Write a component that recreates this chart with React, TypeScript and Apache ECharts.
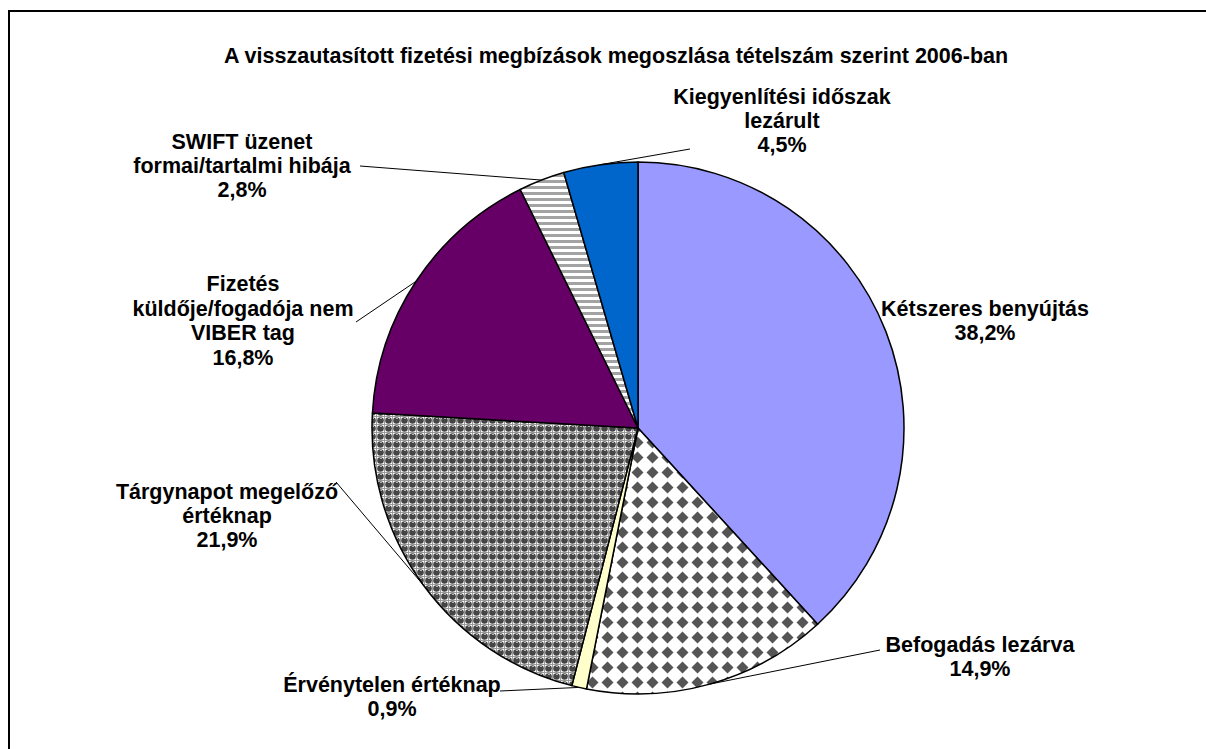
import React, { useEffect, useRef } from "react";
import * as echarts from "echarts";

const titleText = "A visszautasított fizetési megbízások megoszlása tételszám szerint 2006-ban";
const categories = [
  "Kétszeres benyújtás",
  "Befogadás lezárva",
  "Érvénytelen értéknap",
  "Tárgynapot megelőző\nértéknap",
  "Fizetés\nküldője/fogadója nem\nVIBER tag",
  "SWIFT üzenet\nformai/tartalmi hibája",
  "Kiegyenlítési időszak\nlezárult",
];
const values = [38.2, 14.9, 0.9, 21.9, 16.8, 2.8, 4.5];

// label placement: [centerX, centerY, leaderEndX, leaderEndY] (null = no leader)
const labelPlacement: Array<[number, number, number | null, number | null]> = [
  [985, 321, null, null],
  [980, 657, 880, 650],
  [392, 697, 500, 691],
  [227, 516, 336, 482],
  [243, 321, 356, 322],
  [242, 166, 360, 166],
  [782, 121, 690, 149],
];

function makeDiamond(): HTMLCanvasElement {
  const c = document.createElement("canvas");
  c.width = 15; c.height = 15;
  const g = c.getContext("2d")!;
  g.fillStyle = "#ffffff"; g.fillRect(0, 0, 15, 15);
  g.fillStyle = "#555555";
  g.beginPath();
  g.moveTo(7.5, 1.5); g.lineTo(13.5, 7.5); g.lineTo(7.5, 13.5); g.lineTo(1.5, 7.5);
  g.closePath(); g.fill();
  return c;
}
function makeChecker(): HTMLCanvasElement {
  const c = document.createElement("canvas");
  c.width = 8; c.height = 8;
  const g = c.getContext("2d")!;
  g.fillStyle = "#ffffff"; g.fillRect(0, 0, 8, 8);
  g.fillStyle = "#9a9a9a"; g.fillRect(0, 0, 8, 1); g.fillRect(0, 0, 1, 8);
  g.fillStyle = "#454545";
  g.beginPath(); g.arc(4.5, 4.5, 3.3, 0, Math.PI * 2); g.fill();
  g.fillStyle = "#b0b0b0"; g.fillRect(4, 2, 2, 1);
  return c;
}
function makeStripes(): HTMLCanvasElement {
  const c = document.createElement("canvas");
  c.width = 6; c.height = 6;
  const g = c.getContext("2d")!;
  g.fillStyle = "#ffffff"; g.fillRect(0, 0, 6, 6);
  g.fillStyle = "#a3a3a3"; g.fillRect(0, 0, 6, 3);
  return c;
}

export default function App() {
  const ref = useRef<HTMLDivElement>(null);
  useEffect(() => {
    document.body.style.margin = "0";
    const chart = echarts.init(ref.current!, undefined, { renderer: "svg" });
    const fills: any[] = [
      "#9999FF",
      { image: makeDiamond(), repeat: "repeat" },
      "#FFFFCC",
      { image: makeChecker(), repeat: "repeat" },
      "#660066",
      { image: makeStripes(), repeat: "repeat" },
      "#0066CC",
    ];
    const font = "Arial, 'Liberation Sans', sans-serif";
    chart.setOption({
      animation: false,
      backgroundColor: "#ffffff",
      title: {
        text: titleText,
        left: 611,
        top: 40,
        textAlign: "center",
        textStyle: { fontFamily: font, fontSize: 21.5, fontWeight: "bold", color: "#000" },
      },
      graphic: [
        {
          type: "rect",
          shape: { x: 9, y: 11, width: 1220, height: 760 },
          style: { fill: "none", stroke: "#000", lineWidth: 2 },
          silent: true,
        },
      ],
      series: [
        {
          type: "pie",
          center: [638, 428],
          radius: 266,
          startAngle: 90,
          clockwise: true,
          avoidLabelOverlap: false,
          data: categories.map((name, i) => ({
            name,
            value: values[i],
            itemStyle: { color: fills[i] },
            labelLine: { show: labelPlacement[i][2] != null },
          })),
          itemStyle: { borderColor: "#000", borderWidth: 1.5 },
          label: {
            show: true,
            position: "outside",
            overflow: "none",
            formatter: (p: any) => `${p.name}\n${values[p.dataIndex].toFixed(1).replace(".", ",")}%`,
            fontFamily: font,
            fontSize: 21.5,
            fontWeight: "bold",
            lineHeight: 24.4,
            color: "#000",
            align: "center",
          },
          labelLine: { show: true, length: 10, length2: 10, lineStyle: { color: "#000", width: 1 } },
          labelLayout: (params: any) => {
            const pl = labelPlacement[params.dataIndex];
            const out: any = { x: pl[0], y: pl[1], align: "center", verticalAlign: "middle" };
            if (pl[2] != null && params.labelLinePoints) {
              const p0 = params.labelLinePoints[0];
              out.labelLinePoints = [p0, [pl[2], pl[3]], [pl[2], pl[3]]];
            }
            return out;
          },
        },
      ],
    });
    return () => chart.dispose();
  }, []);
  return <div ref={ref} style={{ width: 1206, height: 749 }} />;
}
